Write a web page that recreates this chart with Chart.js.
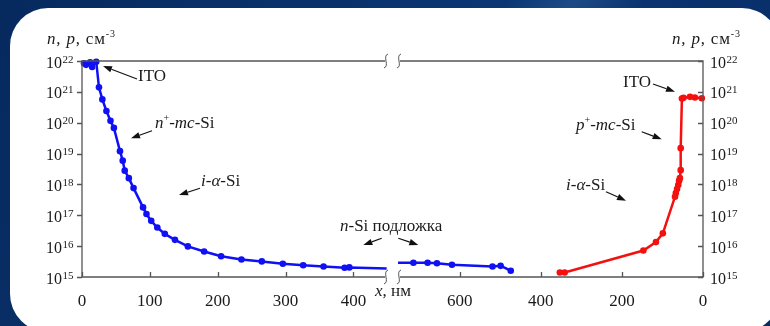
<!DOCTYPE html>
<html>
<head>
<meta charset="utf-8">
<script src="https://cdn.jsdelivr.net/npm/chart.js@4"></script>
<style>
  html, body { margin: 0; padding: 0; }
  body { width: 770px; height: 326px; overflow: hidden; position: relative;
         background: linear-gradient(115deg, #062a5e 0%, #0b3674 55%, #1d4a86 62%, #0a3370 70%, #072c62 100%); }
  #panel { position: absolute; left: 10px; top: 8px; width: 770px; height: 324px;
           background: #fff; border-radius: 38px; }
  canvas { position: absolute; left: 0; top: 0; }
  .lbl { position: absolute; font-family: "Liberation Serif", serif; font-size: 17px;
         line-height: 16px; color: #1a1a1a; white-space: nowrap; }
  .lbl sup { font-size: 10px; line-height: 0; vertical-align: 7px; }
  .ax { letter-spacing: 0.8px; }
</style>
</head>
<body>
<div id="panel"></div>
<canvas id="left" width="770" height="326"></canvas>
<canvas id="right" width="770" height="326"></canvas>

<div class="lbl ax" style="left:47px;top:31px"><i>n</i>, <i>p</i>, см<sup>-3</sup></div>
<div class="lbl ax" style="left:672px;top:31px"><i>n</i>, <i>p</i>, см<sup>-3</sup></div>
<div class="lbl" style="left:138px;top:68px">ITO</div>
<div class="lbl" style="left:155px;top:115px"><i>n</i><sup>+</sup>-<i>mc</i>-Si</div>
<div class="lbl" style="left:201px;top:173px"><i>i</i>-<i>α</i>-Si</div>
<div class="lbl" style="left:340px;top:218px"><i>n</i>-Si подложка</div>
<div class="lbl" style="left:375px;top:283px"><i>x</i>, нм</div>
<div class="lbl" style="left:623px;top:74px">ITO</div>
<div class="lbl" style="left:576px;top:117px"><i>p</i><sup>+</sup>-<i>mc</i>-Si</div>
<div class="lbl" style="left:566px;top:177px"><i>i</i>-<i>α</i>-Si</div>

<script>
// left part: n-mc-Si / i-a-Si / n-Si, x from 0 (left)
const leftX = [3, 6, 12, 15, 21, 25, 30, 36, 42, 47, 56, 60, 63, 69, 76, 90, 95, 102, 111, 122, 137, 156, 180, 205, 235, 265, 296, 326, 356, 387, 394, 449];
const leftN = [8.5e21, 7.5e21, 9e21, 6.4e21, 9.5e21, 1.4e21, 5.7e20, 2.4e20, 1.15e20, 6.8e19, 1.2e19, 5.9e18, 2.8e18, 1.6e18, 7.6e17, 1.8e17, 1.1e17, 6.6e16, 4e16, 2.5e16, 1.6e16, 9.8e15, 6.7e15, 4.7e15, 3.7e15, 3.2e15, 2.7e15, 2.4e15, 2.2e15, 2.0e15, 2.05e15, 1.9e15];

// right part (x counted from the right edge): substrate and p-side
const subX = [752, 714, 679, 656, 619, 519, 499, 474];
const subN = [2.9e15, 2.9e15, 2.9e15, 2.8e15, 2.5e15, 2.2e15, 2.3e15, 1.6e15];
const redX = [353, 341, 147, 116, 99, 69, 67, 64, 61, 59, 57, 55, 55, 52, 48, 32, 20, 3];
const redN = [1.4e15, 1.4e15, 7.2e15, 1.35e16, 2.6e16, 4e17, 5.3e17, 7.1e17, 9.5e17, 1.3e18, 1.6e18, 2.9e18, 1.5e19, 6.1e20, 6.4e20, 6.9e20, 6.6e20, 6.2e20];

const xTicksLeft = [0, 100, 200, 300, 400];
const xTicksRight = [0, 200, 400, 600];
const yExps = [15, 16, 17, 18, 19, 20, 21, 22];

const BLUE = '#1010f5';
const RED = '#f51010';
const AXIS = '#555';
const TXT = '#1a1a1a';

function pts(xs, ys) {
  return xs.map((x, i) => ({ x: x, y: ys[i] }));
}

function breakMark(ctx, x, y) {
  ctx.beginPath();
  ctx.moveTo(x + 2, y - 7);
  ctx.bezierCurveTo(x - 4, y - 5, x + 4, y + 5, x - 2, y + 7);
  ctx.stroke();
}

// axis frame, inward/outward ticks, 10^n labels
const framePlugin = {
  id: 'frame',
  afterDraw(chart, args, opts) {
    const ctx = chart.ctx;
    const a = chart.chartArea;
    const xs = chart.scales.x, ys = chart.scales.y;
    const left = opts.side === 'left';
    ctx.save();
    ctx.strokeStyle = AXIS;
    ctx.lineWidth = 1.3;
    ctx.beginPath();
    if (left) {
      ctx.moveTo(opts.lineEnd, a.top); ctx.lineTo(a.left, a.top);
      ctx.lineTo(a.left, a.bottom); ctx.lineTo(opts.lineEnd, a.bottom);
    } else {
      ctx.moveTo(opts.lineEnd, a.top); ctx.lineTo(a.right, a.top);
      ctx.lineTo(a.right, a.bottom); ctx.lineTo(opts.lineEnd, a.bottom);
    }
    ctx.stroke();
    // break marks
    ctx.lineWidth = 1;
    breakMark(ctx, opts.lineEnd + (left ? 1 : -1), a.top);
    breakMark(ctx, opts.lineEnd + (left ? 1 : -1), a.bottom);
    // x ticks (inward)
    ctx.lineWidth = 1.3;
    ctx.beginPath();
    opts.xTicks.forEach(v => {
      const px = Math.round(xs.getPixelForValue(v)) + 0.5;
      ctx.moveTo(px, a.bottom); ctx.lineTo(px, a.bottom - 5);
    });
    // y ticks
    yExps.forEach(e => {
      const py = Math.round(ys.getPixelForValue(Math.pow(10, e))) + 0.5;
      if (left) { ctx.moveTo(a.left, py); ctx.lineTo(a.left - 5, py); }
      else { ctx.moveTo(a.right, py); ctx.lineTo(a.right - 5, py); }
    });
    ctx.stroke();
    // y labels
    ctx.fillStyle = TXT;
    ctx.textBaseline = 'alphabetic';
    yExps.forEach(e => {
      const py = ys.getPixelForValue(Math.pow(10, e));
      const base = left ? a.left - 20 : a.right + 23;
      ctx.font = '16px "Liberation Serif"';
      ctx.textAlign = 'right';
      ctx.fillText('10', base, py + 6.5);
      ctx.font = '11px "Liberation Serif"';
      ctx.textAlign = 'left';
      ctx.fillText(String(e), base + 0.5, py + 1.5);
    });
    ctx.restore();
  }
};

const arrows = [
  [137, 79, 103, 66], [152, 130.7, 131, 138.3], [200, 188.3, 179, 195],
  [381.7, 238.3, 363.3, 245], [398.3, 238.3, 418.3, 245],
  [653, 84, 675, 91.7], [641.7, 131.7, 661.7, 139.3], [606, 191.7, 626, 200.7]
];

const arrowPlugin = {
  id: 'arrows',
  afterDraw(chart) {
    const ctx = chart.ctx;
    ctx.save();
    ctx.strokeStyle = '#111';
    ctx.fillStyle = '#111';
    ctx.lineWidth = 1.2;
    arrows.forEach(([x1, y1, x2, y2]) => {
      const ang = Math.atan2(y2 - y1, x2 - x1);
      const hl = 9, hw = 3.2;
      const bx = x2 - hl * Math.cos(ang), by = y2 - hl * Math.sin(ang);
      ctx.beginPath();
      ctx.moveTo(x1, y1); ctx.lineTo(bx, by);
      ctx.stroke();
      ctx.beginPath();
      ctx.moveTo(x2, y2);
      ctx.lineTo(bx + hw * Math.sin(ang), by - hw * Math.cos(ang));
      ctx.lineTo(bx - hw * Math.sin(ang), by + hw * Math.cos(ang));
      ctx.closePath();
      ctx.fill();
    });
    ctx.restore();
  }
};

function makeChart(id, datasets, side, xMax, xTicks, padding, lineEnd, extraPlugins) {
  const ctx = document.getElementById(id).getContext('2d');
  return new Chart(ctx, {
    type: 'line',
    data: { datasets: datasets },
    options: {
      responsive: false,
      animation: false,
      devicePixelRatio: 1,
      layout: { padding: padding },
      plugins: {
        legend: { display: false },
        tooltip: { enabled: false },
        frame: { side: side, xTicks: xTicks, lineEnd: lineEnd }
      },
      scales: {
        x: {
          type: 'linear',
          min: 0,
          max: xMax,
          reverse: side === 'right',
          grid: { display: false },
          border: { display: false },
          afterBuildTicks: s => { s.ticks = xTicks.map(v => ({ value: v })); },
          afterFit: s => { s.height = 49; },
          ticks: {
            color: TXT,
            padding: 6,
            maxRotation: 0,
            font: { family: 'Liberation Serif', size: 17 }
          }
        },
        y: {
          type: 'logarithmic',
          position: side,
          min: 1e15,
          max: 1e22,
          grid: { display: false },
          border: { display: false },
          ticks: { display: false },
          afterFit: s => { s.width = side === 'left' ? 82 : 67; }
        }
      }
    },
    plugins: [framePlugin].concat(extraPlugins)
  });
}

function series(xs, ys, color, noMarkFirst, noMarkLast) {
  return {
    data: pts(xs, ys),
    borderColor: color,
    backgroundColor: color,
    borderWidth: 2.5,
    pointRadius: ctx => {
      if (noMarkFirst && ctx.dataIndex === 0) return 0;
      if (noMarkLast && ctx.dataIndex === xs.length - 1) return 0;
      return 3.3;
    },
    pointBorderWidth: 0,
    tension: 0,
    clip: false
  };
}

makeChart('left',
  [series(leftX, leftN, BLUE, false, true)],
  'left', 451, xTicksLeft,
  { top: 61, right: 382, bottom: 0, left: 0 }, 385, []);

makeChart('right',
  [series(subX, subN, BLUE, true, false), series(redX, redN, RED, false, false)],
  'right', 752, xTicksRight,
  { top: 61, right: 0, bottom: 0, left: 398 }, 400, [arrowPlugin]);
</script>
</body>
</html>
